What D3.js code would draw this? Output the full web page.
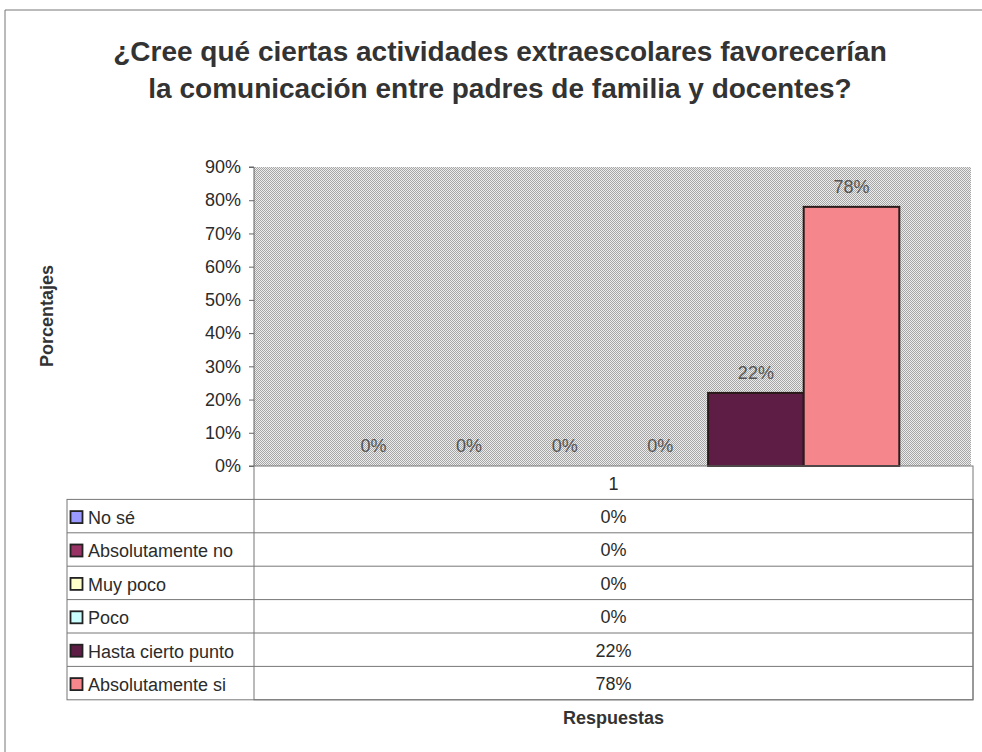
<!DOCTYPE html>
<html>
<head>
<meta charset="utf-8">
<script src="https://cdn.jsdelivr.net/npm/d3@7"></script>
<style>
body { margin: 0; background: #fff; }
svg { font-family: "Liberation Sans", Arial, sans-serif; }
</style>
</head>
<body>
<svg id="chart" width="982" height="752"></svg>
<script>
// datos
var categories = ["1"];
var series = ["No sé", "Absolutamente no", "Muy poco", "Poco", "Hasta cierto punto", "Absolutamente si"];
var values = [0, 0, 0, 0, 0.22, 0.78];
var colors = ["#9999ff", "#993366", "#ffffcc", "#ccffff", "#5e1d45", "#f4868c"];
var yTicks = [0, 0.1, 0.2, 0.3, 0.4, 0.5, 0.6, 0.7, 0.8, 0.9];

var svg = d3.select("#chart"),
plotLeft = 254, plotRight = 971, plotTop = 167, plotBottom = 466,
rowH = 33.4, labelLeft = 67, tableRight = 973;

var fmt = d3.format(".0%");

var y = d3.scaleLinear().domain([0, 0.9]).range([plotBottom, plotTop]);
var x = d3.scaleBand().domain(categories).range([plotLeft, plotRight]).paddingInner(0).paddingOuter(0.125);
var xs = d3.scaleBand().domain(series).range([0, x.bandwidth()]);

// trama gris del fondo
var defs = svg.append("defs");
var pat = defs.append("pattern").attr("id", "grid").attr("width", 2).attr("height", 2)
.attr("patternUnits", "userSpaceOnUse");
pat.append("rect").attr("width", 2).attr("height", 2).attr("fill", "#ececec");
pat.append("rect").attr("width", 1).attr("height", 1).attr("fill", "#a6a6a6");
pat.append("rect").attr("x", 1).attr("y", 1).attr("width", 1).attr("height", 1).attr("fill", "#a6a6a6");

// marco exterior
svg.append("path").attr("d", "M5,752 V10 H982").attr("fill", "none").attr("stroke", "#777").attr("stroke-width", 1);

// titulo
var title = svg.append("text").attr("text-anchor", "middle")
.style("font-size", "28px").style("font-weight", "bold").attr("fill", "#333");
title.append("tspan").attr("x", 500).attr("y", 61).text("¿Cree qué ciertas actividades extraescolares favorecerían");
title.append("tspan").attr("x", 500).attr("y", 98).text("la comunicación entre padres de familia y docentes?");

// area del grafico
svg.append("rect").attr("x", plotLeft).attr("y", plotTop).attr("width", plotRight - plotLeft).attr("height", plotBottom - plotTop)
.attr("fill", "url(#grid)");

// eje y
var yAxis = svg.append("g").attr("transform", "translate(" + plotLeft + ",0)")
.call(d3.axisLeft(y).tickValues(yTicks).tickFormat(fmt).tickSize(5).tickPadding(8));
yAxis.select(".domain").attr("stroke", "#666").attr("d", "M-5," + plotTop + "H0V" + plotBottom + "H-5");
yAxis.selectAll(".tick line").attr("stroke", "#666");
yAxis.selectAll(".tick text").style("font-size", "18px").attr("fill", "#2b2b2b")
.style("font-family", "Liberation Sans, Arial, sans-serif");

// barras
var g = svg.append("g").attr("transform", "translate(" + x("1") + ",0)");
g.selectAll("rect.bar")
.data(values)
.enter().append("rect")
.attr("class", "bar")
.attr("x", function(d, i) { return xs(series[i]); })
.attr("width", xs.bandwidth())
.attr("y", function(d) { return y(d); })
.attr("height", function(d) { return plotBottom - y(d); })
.attr("fill", function(d, i) { return colors[i]; })
.attr("stroke", function(d) { return d > 0 ? "#2a1a1a" : "none"; })
.attr("stroke-width", 2);

// etiquetas de datos
g.selectAll("text.lbl")
.data(values)
.enter().append("text")
.attr("class", "lbl")
.attr("x", function(d, i) { return xs(series[i]) + xs.bandwidth() / 2; })
.attr("y", function(d) { return y(d) - 14; })
.attr("text-anchor", "middle")
.style("font-size", "18px")
.attr("fill", "#555")
.text(function(d) { return fmt(d); });

// tabla de datos
var tbl = svg.append("g").attr("stroke", "#777").attr("stroke-width", 1).attr("fill", "none");
tbl.append("rect").attr("x", plotLeft).attr("y", plotBottom).attr("width", tableRight - plotLeft).attr("height", rowH * 7);
tbl.append("rect").attr("x", labelLeft).attr("y", plotBottom + rowH).attr("width", tableRight - labelLeft).attr("height", rowH * 6);
series.forEach(function(s, i) {
    if (i > 0) tbl.append("line").attr("x1", labelLeft).attr("x2", tableRight)
    .attr("y1", plotBottom + rowH * (i + 1)).attr("y2", plotBottom + rowH * (i + 1));
});

var cx = (plotLeft + tableRight) / 2;
svg.append("text").attr("x", cx).attr("y", plotBottom + rowH / 2 + 7).attr("text-anchor", "middle")
.style("font-size", "18px").attr("fill", "#2b2b2b").text(categories[0]);

var rows = svg.selectAll("g.row").data(series).enter().append("g").attr("class", "row")
.attr("transform", function(d, i) { return "translate(0," + (plotBottom + rowH * (i + 1)) + ")"; });
rows.append("rect").attr("x", labelLeft + 3.5).attr("y", rowH / 2 - 5).attr("width", 12).attr("height", 12)
.attr("fill", function(d, i) { return colors[i]; }).attr("stroke", "#222").attr("stroke-width", 1.8);
rows.append("text").attr("x", labelLeft + 21).attr("y", rowH / 2 + 8)
.style("font-size", "18px").attr("fill", "#2b2b2b").text(function(d) { return d; });
rows.append("text").attr("x", cx).attr("y", rowH / 2 + 7).attr("text-anchor", "middle")
.style("font-size", "18px").attr("fill", "#2b2b2b").text(function(d, i) { return fmt(values[i]); });

// titulos de ejes
svg.append("text").attr("x", cx).attr("y", 724).attr("text-anchor", "middle")
.style("font-size", "18px").style("font-weight", "bold").attr("fill", "#333").text("Respuestas");
svg.append("text").attr("transform", "translate(53,316) rotate(-90)").attr("text-anchor", "middle")
.style("font-size", "18px").style("font-weight", "bold").attr("fill", "#333").text("Porcentajes");
</script>
</body>
</html>
